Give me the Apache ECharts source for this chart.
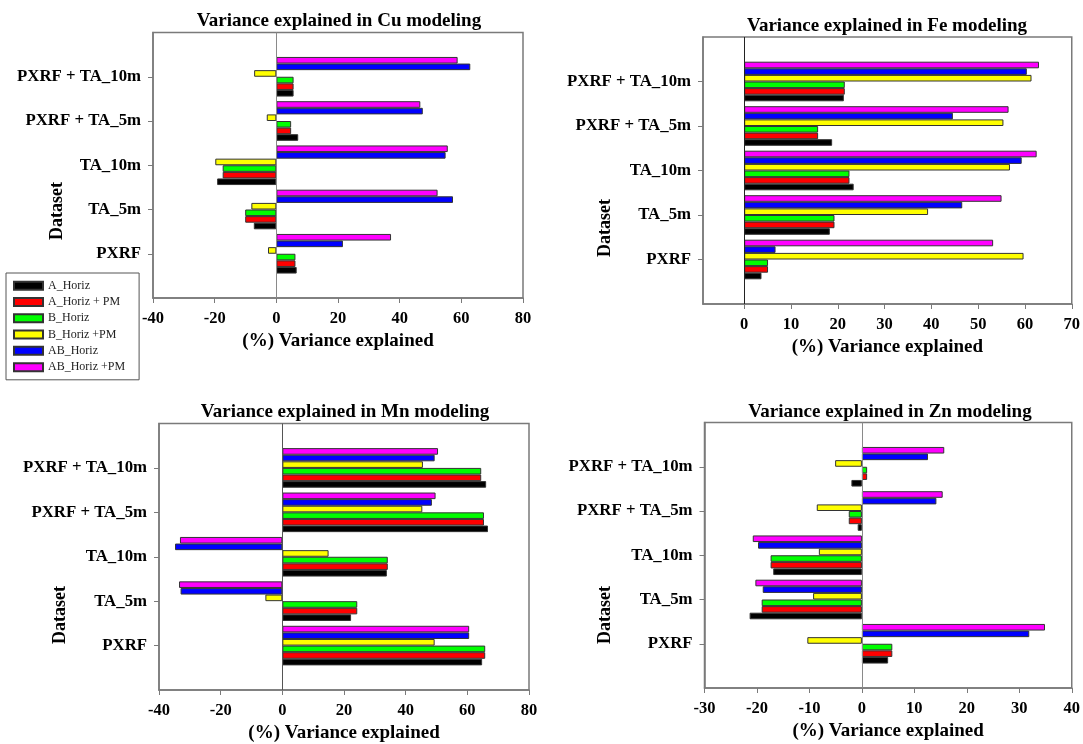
<!DOCTYPE html>
<html>
<head>
<meta charset="utf-8">
<script src="https://cdn.jsdelivr.net/npm/echarts@6/dist/echarts.min.js"></script>
<style>
  html, body { margin: 0; padding: 0; background: #ffffff; }
  #chart { width: 1083px; height: 744px; }
</style>
</head>
<body>
<div id="chart"></div>
<script>
// Datasets on the vertical axis (blank slots keep half a band above and below)
const datasets = ['PXRF', 'TA_5m', 'TA_10m', 'PXRF + TA_5m', 'PXRF + TA_10m'];
const seriesNames = ['A_Horiz', 'A_Horiz + PM', 'B_Horiz', 'B_Horiz +PM', 'AB_Horiz', 'AB_Horiz +PM'];
const seriesColors = ['#000000', '#ff0000', '#00ff00', '#ffff00', '#0000ff', '#ff00ff'];

// Variance explained (%) — order follows `datasets`
const cuA     = [6.6, -7.3, -19.2, 7.1, 5.6];
const cuAPM   = [6.2, -10.1, -17.4, 4.8, 5.6];
const cuB     = [6.2, -10.1, -17.4, 4.8, 5.6];
const cuBPM   = [-2.7, -8.1, -19.8, -3.1, -7.2];
const cuAB    = [21.6, 57.3, 54.9, 47.5, 62.9];
const cuABPM  = [37.2, 52.3, 55.6, 46.7, 58.8];

const feA     = [3.7, 18.3, 23.4, 18.8, 21.3];
const feAPM   = [5.1, 19.3, 22.5, 15.8, 21.5];
const feB     = [5.1, 19.3, 22.5, 15.8, 21.5];
const feBPM   = [59.7, 39.3, 56.8, 55.4, 61.4];
const feAB    = [6.7, 46.6, 59.3, 44.6, 60.4];
const feABPM  = [53.2, 55.0, 62.5, 56.5, 63.0];

const mnA     = [64.8, 22.3, 33.9, 66.7, 66.1];
const mnAPM   = [65.8, 24.3, 34.2, 65.4, 64.5];
const mnB     = [65.8, 24.3, 34.2, 65.4, 64.5];
const mnBPM   = [49.4, -5.5, 15.0, 45.4, 45.6];
const mnAB    = [60.6, -33.0, -34.8, 48.5, 49.4];
const mnABPM  = [60.6, -33.5, -33.2, 49.7, 50.5];

const znA     = [5.0, -21.4, -16.9, -0.8, -2.0];
const znAPM   = [5.8, -19.1, -17.4, -2.5, 1.0];
const znB     = [5.8, -19.1, -17.4, -2.5, 1.0];
const znBPM   = [-10.4, -9.3, -8.2, -8.6, -5.1];
const znAB    = [31.9, -18.9, -19.8, 14.2, 12.6];
const znABPM  = [34.9, -20.3, -20.8, 15.4, 15.7];

// X tick values per panel
const cuTicks = [-40, -20, 0, 20, 40, 60, 80];
const feTicks = [0, 10, 20, 30, 40, 50, 60, 70];
const mnTicks = [-40, -20, 0, 20, 40, 60, 80];
const znTicks = [-30, -20, -10, 0, 10, 20, 30, 40];

const FONT = "'Liberation Serif', 'Times New Roman', serif";
const BOX = '#7a7a7a';

const panels = [
  { title: 'Variance explained in Cu modeling', values: [cuA, cuAPM, cuB, cuBPM, cuAB, cuABPM], ticks: cuTicks,
    min: -40, max: 80, grid: { left: 153, top: 32.5, width: 370, height: 265.5 },
    titlePos: [339, 12], datasetPos: [57, 211], zeroColor: '#8a8a8a' },
  { title: 'Variance explained in Fe modeling', values: [feA, feAPM, feB, feBPM, feAB, feABPM], ticks: feTicks,
    min: -8.8, max: 70, grid: { left: 703, top: 37, width: 369.5, height: 267 },
    titlePos: [887, 17], datasetPos: [605, 228], zeroColor: '#222222' },
  { title: 'Variance explained in Mn modeling', values: [mnA, mnAPM, mnB, mnBPM, mnAB, mnABPM], ticks: mnTicks,
    min: -40, max: 80, grid: { left: 159, top: 423.5, width: 370, height: 267 },
    titlePos: [345, 403], datasetPos: [60, 615], zeroColor: '#555555' },
  { title: 'Variance explained in Zn modeling', values: [znA, znAPM, znB, znBPM, znAB, znABPM], ticks: znTicks,
    min: -30, max: 40, grid: { left: 704.5, top: 422.5, width: 370.5, height: 265.5 },
    titlePos: [890, 403], datasetPos: [605, 615], zeroColor: '#8a8a8a' }
];

const yCategories = [''].concat(datasets, ['']);
const lastIdx = yCategories.length - 1;

const option = {
  animation: false,
  backgroundColor: '#ffffff',
  textStyle: { fontFamily: FONT },
  title: panels.map(p => ({
    text: p.title,
    left: p.titlePos[0], top: p.titlePos[1], textAlign: 'center', padding: 0,
    textStyle: { fontFamily: FONT, fontWeight: 'bold', fontSize: 19, color: '#000' }
  })),
  legend: {
    data: seriesNames,
    orient: 'vertical',
    left: 6, top: 273,
    icon: 'rect',
    itemWidth: 29, itemHeight: 8, itemGap: 3,
    padding: [6, 14, 6, 7],
    borderColor: '#555', borderWidth: 1,
    textStyle: { fontFamily: FONT, fontSize: 12, color: '#222', lineHeight: 13.3 },
    selectedMode: false
  },
  graphic: panels.map(p => ({
    type: 'text',
    x: p.datasetPos[0], y: p.datasetPos[1],
    rotation: Math.PI / 2,
    style: { text: 'Dataset', fontFamily: FONT, fontWeight: 'bold', fontSize: 18, fill: '#000',
             textAlign: 'center', textVerticalAlign: 'middle' }
  })),
  grid: panels.map(p => Object.assign({ show: true, borderColor: BOX, borderWidth: 1.5, backgroundColor: 'transparent' }, p.grid)),
  xAxis: panels.map((p, i) => ({
    type: 'value', gridIndex: i, min: p.min, max: p.max,
    splitLine: { show: false },
    axisLine: { show: true, onZero: false, lineStyle: { color: BOX, width: 1.5 } },
    axisTick: { show: true, length: 5, lineStyle: { color: BOX }, customValues: p.ticks },
    axisLabel: { customValues: p.ticks, margin: 12, fontFamily: FONT, fontWeight: 'bold', fontSize: 16.5, color: '#000' },
    name: '(%) Variance explained', nameLocation: 'middle', nameGap: 34,
    nameTextStyle: { fontFamily: FONT, fontWeight: 'bold', fontSize: 19, color: '#000' }
  })),
  yAxis: panels.map((p, i) => ({
    type: 'category', gridIndex: i, data: yCategories, boundaryGap: false,
    axisLine: { show: true, onZero: false, lineStyle: { color: BOX, width: 1.5 } },
    axisTick: { show: true, length: 5, lineStyle: { color: BOX },
                interval: (idx) => idx > 0 && idx < lastIdx },
    axisLabel: { interval: 0, margin: 12, fontFamily: FONT, fontWeight: 'bold', fontSize: 16.8, color: '#000' },
    splitLine: { show: false }
  })),
  series: []
};

// Bars within a group are stacked top-down in series order, so the
// last series (A_Horiz) is added last and ends up at the bottom.
panels.forEach((p, gi) => {
  for (let si = p.values.length - 1; si >= 0; si--) {
    const s = {
      type: 'bar',
      name: seriesNames[si],
      xAxisIndex: gi, yAxisIndex: gi,
      data: [null].concat(p.values[si], [null]),
      barWidth: 6.6,
      barGap: '0%',
      itemStyle: { color: seriesColors[si], borderColor: '#333', borderWidth: 1 },
      emphasis: { disabled: true }
    };
    if (si === 0) {
      s.markLine = {
        silent: true, symbol: 'none', label: { show: false },
        lineStyle: { color: p.zeroColor, width: 1, type: 'solid' },
        data: [{ xAxis: 0 }]
      };
    }
    option.series.push(s);
  }
});

const chart = echarts.init(document.getElementById('chart'), null, { renderer: 'canvas' });
chart.setOption(option);
</script>
</body>
</html>
